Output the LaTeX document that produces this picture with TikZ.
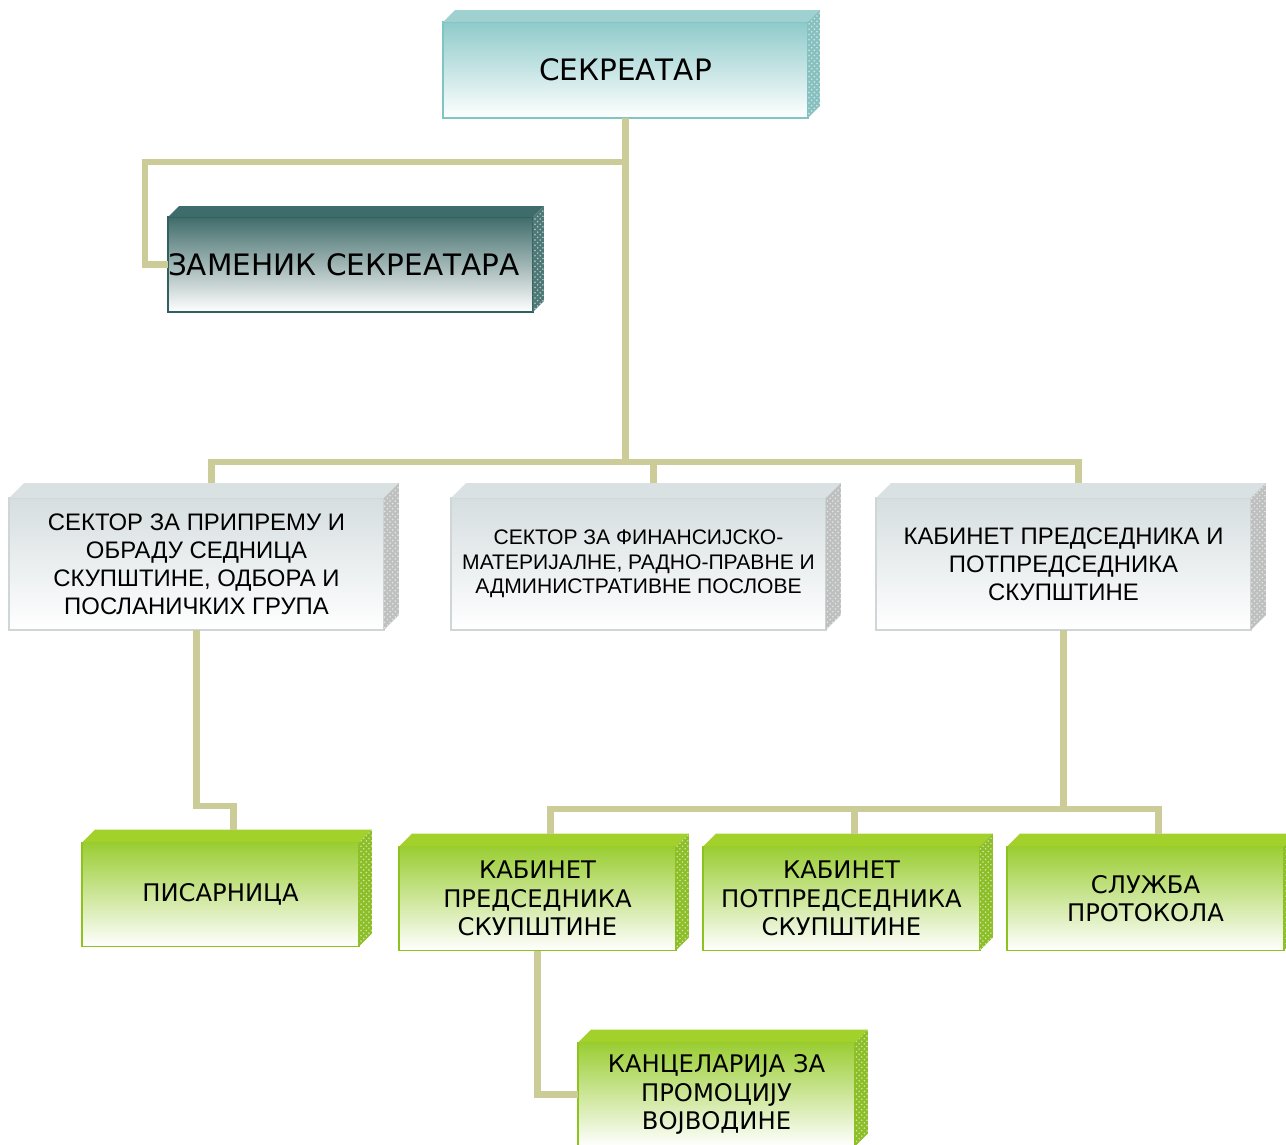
\documentclass[tikz,border=0pt]{standalone}
\usepackage{fontspec}
\setmainfont{DejaVu Sans}
\newfontfamily\arialfont{Liberation Sans}
\usetikzlibrary{patterns}

\definecolor{linkcol}{RGB}{204,204,153}
\definecolor{tealfront}{RGB}{143,202,202}
\definecolor{tealface}{RGB}{158,209,207}
\definecolor{tealside}{RGB}{136,192,192}
\definecolor{tealedge}{RGB}{128,196,196}
\definecolor{darkfront}{RGB}{64,108,106}
\definecolor{darkface}{RGB}{62,108,106}
\definecolor{darkside}{RGB}{78,120,118}
\definecolor{darkedge}{RGB}{48,96,96}
\definecolor{greyfront}{RGB}{214,222,224}
\definecolor{greyface}{RGB}{217,225,227}
\definecolor{greyside}{RGB}{190,192,192}
\definecolor{greyedge}{RGB}{206,214,216}
\definecolor{greenfront}{RGB}{154,205,50}
\definecolor{greenface}{RGB}{163,209,44}
\definecolor{greenside}{RGB}{140,190,40}
\definecolor{greenedge}{RGB}{142,194,31}

\tikzset{
  box/.style={rectangle, outer sep=0pt, inner sep=2pt, line width=1pt, align=center, text=black},
  boxteal/.style={box, draw=tealedge, top color=tealfront, bottom color=white,
    minimum width=7.3cm, font=\fontsize{16.8}{19}\selectfont},
  boxdark/.style={box, draw=darkedge, top color=darkfront, bottom color=white,
    minimum width=7.3cm, font=\fontsize{16.8}{19}\selectfont},
  boxgrey/.style={box, draw=greyedge, top color=greyfront, bottom color=white,
    minimum width=7.5cm, minimum height=2.64cm, font=\arialfont\fontsize{13.6}{15.9}\selectfont},
  boxgreen/.style={box, draw=greenedge, top color=greenfront, bottom color=white,
    minimum width=5.54cm, minimum height=2.08cm, font=\fontsize{13.8}{16.3}\selectfont},
  link/.style={draw=linkcol, line width=3.5pt},
}

\begin{document}
\begin{tikzpicture}[x=0.02cm, y=-0.02cm]
  \useasboundingbox (0,0) rectangle (1286,1144);

  % upper boxes
  \node[boxteal, minimum height=1.92cm] (sek) at (625.5,70) {СЕКРЕАТАР};
  \node[boxdark, minimum height=1.9cm, inner xsep=0pt, text width=7.3cm, align=left] (zam) at (350.5,264.5) {ЗАМЕНИК СЕКРЕАТАРА};

  % sectors
  \node[boxgrey] (sec1) at (196.5,564) {СЕКТОР ЗА ПРИПРЕМУ И\\ОБРАДУ СЕДНИЦА\\СКУПШТИНЕ, ОДБОРА И\\ПОСЛАНИЧКИХ ГРУПА};
  \node[boxgrey, font=\arialfont\fontsize{12}{14}\selectfont] (sec2) at (638.5,564) {СЕКТОР ЗА ФИНАНСИЈСКО-\\МАТЕРИЈАЛНЕ, РАДНО-ПРАВНЕ И\\АДМИНИСТРАТИВНЕ ПОСЛОВЕ};
  \node[boxgrey] (sec3) at (1063.5,564) {КАБИНЕТ ПРЕДСЕДНИКА И\\ПОТПРЕДСЕДНИКА\\СКУПШТИНЕ};

  % lower boxes
  \node[boxgreen] (pis) at (220.5,894.5) {ПИСАРНИЦА};
  \node[boxgreen] (kp) at (537.5,898.5) {КАБИНЕТ\\ПРЕДСЕДНИКА\\СКУПШТИНЕ};
  \node[boxgreen] (kpp) at (841.5,898.5) {КАБИНЕТ\\ПОТПРЕДСЕДНИКА\\СКУПШТИНЕ};
  \node[boxgreen] (sp) at (1145.5,898.5) {СЛУЖБА\\ПРОТОКОЛА};
  \node[boxgreen] (kan) at (716.5,1094.5) {КАНЦЕЛАРИЈА ЗА\\ПРОМОЦИЈУ\\ВОЈВОДИНЕ};

  % top and side faces
  \foreach \n/\d/\col in {sek/12/teal, zam/11/dark, sec1/15/grey, sec2/15/grey, sec3/15/grey,
                          pis/13/green, kp/13/green, kpp/13/green, sp/13/green, kan/13/green} {
    \fill[fill=\col face] (\n.north west) -- ([shift={(\d,-\d)}]\n.north west)
      -- ([shift={(\d,-\d)}]\n.north east) -- (\n.north east) -- cycle;
    \fill[fill=\col side, postaction={pattern=crosshatch dots, pattern color=\col side!40!white}]
      (\n.north east) -- ([shift={(\d,-\d)}]\n.north east)
      -- ([shift={(\d,-\d)}]\n.south east) -- (\n.south east) -- cycle;
    \coordinate (\n-top) at ([shift={(\d,-\d)}]\n.north);
  }

  \coordinate (bus1) at (625.5,462);
  \coordinate (bus2) at (1063.5,809);

  % connectors
  \draw[link] (sek.south) -- ++(0,44) -| ([xshift=-0.46cm]zam.west) -- (zam.west);
  \draw[link] (sek.south) -- (bus1);
  \draw[link] (sec1-top) |- (bus1 -| sec3-top) -- (sec3-top);
  \draw[link] (sec2-top) -- (sec2-top |- bus1);
  \draw[link] (sec1.south) -- ++(0,176) -| (pis-top);
  \draw[link] (sec3.south) -- (bus2);
  \draw[link] (kp-top) |- (bus2 -| sp-top) -- (sp-top);
  \draw[link] (kpp-top) -- (kpp-top |- bus2);
  \draw[link] (kp.south) |- (kan.west);
\end{tikzpicture}
\end{document}
